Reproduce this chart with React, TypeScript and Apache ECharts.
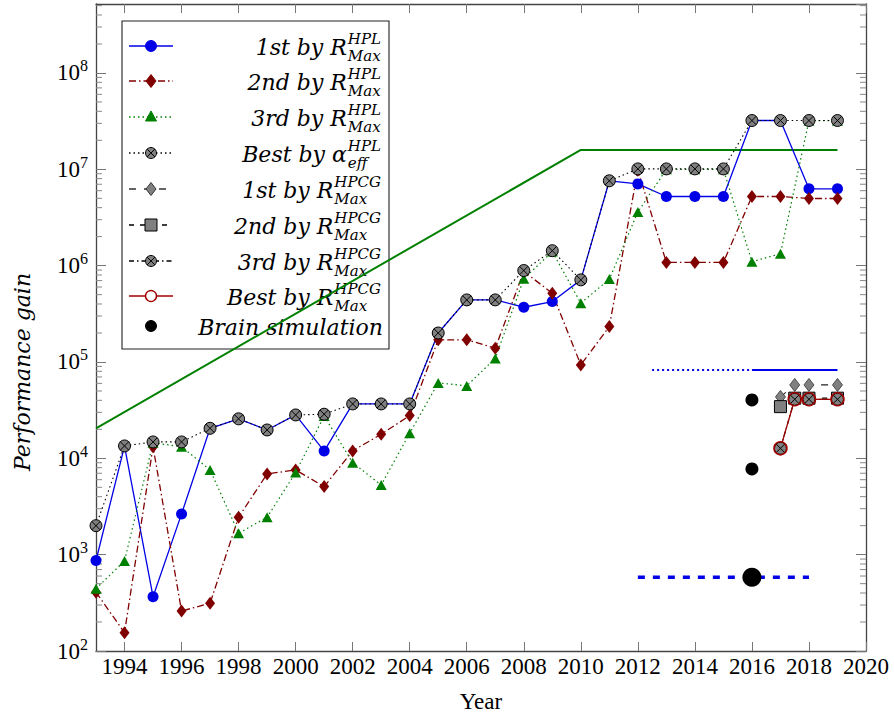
import React, { useEffect, useRef } from "react";
import * as echarts from "echarts";

// ---------- data ----------
const years = [1993, 1994, 1995, 1996, 1997, 1998, 1999, 2000, 2001, 2002, 2003, 2004, 2005, 2006, 2007, 2008, 2009, 2010, 2011, 2012, 2013, 2014, 2015, 2016, 2017, 2018, 2019];
const firstByHPL = [870, 13400, 366, 2650, 20500, 25700, 19700, 28200, 11900, 36700, 36700, 36700, 200000, 441000, 441000, 370000, 424000, 712000, 7.6e6, 7.06e6, 5.22e6, 5.22e6, 5.22e6, 3.21e7, 3.21e7, 6.28e6, 6.28e6];
const secondByHPL = [407, 155, 13200, 260, 313, 2445, 6890, 7580, 5090, 11940, 17800, 27750, 1.7e5, 1.7e5, 1.39e5, 8.7e5, 5.18e5, 9.33e4, 2.33e5, 9.8e6, 1.08e6, 1.08e6, 1.08e6, 5.22e6, 5.22e6, 4.98e6, 4.98e6];
const thirdByHPL = [444, 860, 14500, 13200, 7580, 1670, 2445, 7110, 27500, 9020, 5290, 18230, 60700, 56500, 1.09e5, 7.3e5, 1.4e6, 4.08e5, 7.25e5, 3.6e6, 1.0e7, 1.0e7, 1.0e7, 1.1e6, 1.33e6, 3.2e7, 3.2e7];
const bestByAlpha = [2000, 13450, 14800, 14800, 20500, 25700, 19700, 28200, 28700, 36700, 36700, 36700, 200000, 441000, 441000, 8.9e5, 1.43e6, 7.12e5, 7.6e6, 1.01e7, 1.01e7, 1.01e7, 1.01e7, 3.21e7, 3.21e7, 3.21e7, 3.21e7];

const hpcgYears = [2017, 2017.5, 2018, 2019];
const firstByHPCG = [43400, 57800, 57800, 57800];
const secondByHPCG = [34400, 42100, 42100, 42100];
const thirdByHPCG = [12700, 41000, 41000, 41000];
const bestByHPCG = [12700, 41000, 41000, 41000];

const brainYears = [2016, 2016];
const brainValues = [40400, 7760];
const brainBigYears = [2016];
const brainBigValues = [582];

const trendYears = [1993, 2010, 2019];
const trendValues = [20500, 1.59e7, 1.59e7];
const blueDottedYears = [2012.5, 2016];
const blueDottedValues = [82800, 82800];
const blueSolidYears = [2016, 2019];
const blueSolidValues = [82800, 82800];
const blueDashedYears = [2012, 2018];
const blueDashedValues = [582, 582];

const xTickValues = [1994, 1996, 1998, 2000, 2002, 2004, 2006, 2008, 2010, 2012, 2014, 2016, 2018, 2020];
const minorMultipliers = [2, 3, 4, 5, 6, 7, 8, 9];
const minorDecades = [2, 3, 4, 5, 6, 7, 8];

const legendItems = [
  { main: "1st by R", sup: "HPL", sub: "Max" },
  { main: "2nd by R", sup: "HPL", sub: "Max" },
  { main: "3rd by R", sup: "HPL", sub: "Max" },
  { main: "Best by \u03b1", sup: "HPL", sub: "eff" },
  { main: "1st by R", sup: "HPCG", sub: "Max" },
  { main: "2nd by R", sup: "HPCG", sub: "Max" },
  { main: "3rd by R", sup: "HPCG", sub: "Max" },
  { main: "Best by R", sup: "HPCG", sub: "Max" },
  { main: "Brain simulation", sup: "", sub: "" },
];

// ---------- styles ----------
const BLUE = "#0000e6";
const DRED = "#800000";
const GREEN = "#008000";
const GRAY = "#808080";
const BRED = "#a00000";
const OTIMES = "path://M0,-10A10,10,0,1,1,0,10A10,10,0,1,1,0,-10ZM-7.07,-7.07L7.07,7.07M7.07,-7.07L-7.07,7.07";
const MATH = "DejaVu Serif";
const ROMAN = "Liberation Serif";

const pair = (xs: number[], ys: number[]) => xs.map((x, i) => [x, ys[i]]);

function measure(text: string, size: number) {
  const c = document.createElement("canvas").getContext("2d")!;
  c.font = `italic ${size}px ${MATH}`;
  return c.measureText(text).width;
}

export default function App() {
  const ref = useRef<HTMLDivElement>(null);

  useEffect(() => {
    document.body.style.margin = "0";
    const chart = echarts.init(ref.current!, null, { renderer: "svg" });

    const minorValues: number[][] = [];
    minorDecades.forEach((d) =>
      minorMultipliers.forEach((m) => {
        const v = m * Math.pow(10, d);
        if (v < 5.2e8) minorValues.push([1993, v]);
      })
    );

    const txt = (text: string, x: number, y: number, size: number, align: string) => ({
      type: "text", x, y,
      style: {
        text, fontFamily: MATH, fontSize: size, fontStyle: "italic", fill: "#000", lineHeight: size,
        align, verticalAlign: "middle", textAlign: align, textVerticalAlign: "middle",
      },
    });

    // legend graphic
    const rowY = [46, 81, 117, 153, 189, 225, 261, 296, 326];
    const lx1 = 129, lx2 = 173, mx = 151, rightEdge = 381;
    const legendChildren: any[] = [
      { type: "rect", shape: { x: 122, y: 21, width: 267, height: 328 }, style: { fill: "#fff", stroke: "#222", lineWidth: 1.1 } },
    ];
    const samples: any[] = [
      { stroke: BLUE, dash: null, marker: "circle", fill: BLUE, mstroke: BLUE },
      { stroke: DRED, dash: [7, 3, 1.5, 3], marker: "diamond", fill: DRED, mstroke: DRED },
      { stroke: GREEN, dash: [1.5, 3], marker: "triangle", fill: GREEN, mstroke: GREEN },
      { stroke: "#000", dash: [1.5, 3], marker: "otimes", fill: GRAY, mstroke: "#000" },
      { stroke: "#333", dash: [7, 8], marker: "diamond", fill: GRAY, mstroke: "#333" },
      { stroke: "#000", dash: [5, 6], marker: "rect", fill: GRAY, mstroke: "#000" },
      { stroke: "#000", dash: [5, 3, 1.5, 3], marker: "otimes", fill: GRAY, mstroke: "#000" },
      { stroke: BRED, dash: null, marker: "circle", fill: "#fff", mstroke: BRED },
      { stroke: null, dash: null, marker: "circle", fill: "#000", mstroke: "#000" },
    ];
    samples.forEach((s, i) => {
      const y = rowY[i];
      if (s.stroke) {
        legendChildren.push({ type: "line", shape: { x1: lx1, y1: y, x2: lx2, y2: y }, style: { stroke: s.stroke, lineWidth: 1.3, lineDash: s.dash || undefined } });
      }
      const st = { fill: s.fill, stroke: s.mstroke, lineWidth: 1 };
      if (s.marker === "circle") legendChildren.push({ type: "circle", shape: { cx: mx, cy: y, r: 5.5 }, style: { ...st, lineWidth: s.fill === "#fff" ? 1.4 : 1 } });
      if (s.marker === "diamond") legendChildren.push({ type: "polygon", shape: { points: [[mx, y - 6.5], [mx + 5, y], [mx, y + 6.5], [mx - 5, y]] }, style: st });
      if (s.marker === "triangle") legendChildren.push({ type: "polygon", shape: { points: [[mx, y - 6], [mx + 5.5, y + 4], [mx - 5.5, y + 4]] }, style: st });
      if (s.marker === "rect") legendChildren.push({ type: "rect", shape: { x: mx - 6, y: y - 6, width: 12, height: 12 }, style: st });
      if (s.marker === "otimes") {
        legendChildren.push({ type: "circle", shape: { cx: mx, cy: y, r: 5.5 }, style: st });
        legendChildren.push({ type: "line", shape: { x1: mx - 3.9, y1: y - 3.9, x2: mx + 3.9, y2: y + 3.9 }, style: { stroke: "#000", lineWidth: 1 } });
        legendChildren.push({ type: "line", shape: { x1: mx + 3.9, y1: y - 3.9, x2: mx - 3.9, y2: y + 3.9 }, style: { stroke: "#000", lineWidth: 1 } });
      }
    });
    legendItems.forEach((it, i) => {
      const y = rowY[i];
      if (!it.sup) {
        legendChildren.push(txt(it.main, 383, y + 1, 22, "right"));
        return;
      }
      const w = Math.max(measure(it.sup, 15), measure(it.sub, 15));
      const sx = rightEdge - w;
      legendChildren.push(txt(it.main, sx - 1, y + 1, 22, "right"));
      legendChildren.push(txt(it.sup, sx, y - 7, 15, "left"));
      legendChildren.push(txt(it.sub, sx, y + 10, 15, "left"));
    });

    const axisLineStyle = { color: "#444", width: 1.3 };
    const tickStyle = { color: "#777", width: 1 };

    const option: any = {
      animation: false,
      backgroundColor: "#fff",
      grid: { left: 96, right: 28, top: 4, bottom: 68 },
      xAxis: [
        {
          type: "value", min: 1993, max: 2020, position: "bottom",
          axisLine: { show: true, lineStyle: axisLineStyle },
          axisTick: { show: true, inside: true, length: 9, customValues: xTickValues, lineStyle: tickStyle },
          axisLabel: { customValues: xTickValues, margin: 4, fontFamily: ROMAN, fontSize: 23, color: "#000", formatter: (v: number) => String(v) },
          splitLine: { show: false },
          name: "Year", nameLocation: "middle", nameGap: 39,
          nameTextStyle: { fontFamily: ROMAN, fontSize: 23, color: "#000" },
        },
        {
          type: "value", min: 1993, max: 2020, position: "top",
          axisLine: { show: true, lineStyle: axisLineStyle },
          axisTick: { show: true, inside: true, length: 9, customValues: xTickValues, lineStyle: tickStyle },
          axisLabel: { show: false },
          splitLine: { show: false },
        },
      ],
      yAxis: [
        {
          type: "log", logBase: 10, min: 100, max: 5.2e8, position: "left",
          axisLine: { show: true, lineStyle: axisLineStyle },
          axisTick: { show: true, inside: true, length: 10, lineStyle: tickStyle },
          axisLabel: {
            margin: 8, showMaxLabel: false, color: "#000",
            formatter: (v: number) => `{b|10}{s|${Math.round(Math.log10(v))}}`,
            rich: {
              b: { fontFamily: ROMAN, fontSize: 23, lineHeight: 30, color: "#000" },
              s: { fontFamily: ROMAN, fontSize: 16, lineHeight: 16, verticalAlign: "top", color: "#000" },
            },
          },
          splitLine: { show: false },
        },
        {
          type: "log", logBase: 10, min: 100, max: 5.2e8, position: "right",
          axisLine: { show: true, lineStyle: axisLineStyle },
          axisTick: { show: true, inside: true, length: 10, lineStyle: tickStyle },
          axisLabel: { show: false },
          splitLine: { show: false },
        },
      ],
      graphic: [
        { ...txt("Performance gain", 22, 372, 22, "center"), rotation: Math.PI / 2 },
        { type: "group", z: 100, children: legendChildren },
      ],
      series: [
        {
          type: "custom", name: "minor ticks", silent: true, clip: false,
          data: minorValues,
          renderItem: (params: any, api: any) => {
            const cs = params.coordSys;
            const y = api.coord([1993, api.value(1)])[1];
            return {
              type: "group",
              children: [
                { type: "line", shape: { x1: cs.x, y1: y, x2: cs.x + 6, y2: y }, style: { stroke: "#888", lineWidth: 1 } },
                { type: "line", shape: { x1: cs.x + cs.width - 6, y1: y, x2: cs.x + cs.width, y2: y }, style: { stroke: "#888", lineWidth: 1 } },
              ],
            };
          },
        },
        { type: "line", name: "trend", data: pair(trendYears, trendValues), symbol: "none", lineStyle: { color: GREEN, width: 2 }, silent: true },
        { type: "line", name: "target dotted", data: pair(blueDottedYears, blueDottedValues), symbol: "none", lineStyle: { color: BLUE, width: 2, type: [2, 3] } },
        { type: "line", name: "target solid", data: pair(blueSolidYears, blueSolidValues), symbol: "none", lineStyle: { color: BLUE, width: 2 } },
        { type: "line", name: "target dashed", data: pair(blueDashedYears, blueDashedValues), symbol: "none", lineStyle: { color: BLUE, width: 3.5, type: [7, 8] } },
        {
          type: "line", name: "1st by R_Max^HPL", data: pair(years, firstByHPL),
          symbol: "circle", symbolSize: 11, itemStyle: { color: BLUE }, lineStyle: { color: BLUE, width: 1.3 },
        },
        {
          type: "line", name: "2nd by R_Max^HPL", data: pair(years, secondByHPL),
          symbol: "diamond", symbolSize: [10, 13], itemStyle: { color: DRED }, lineStyle: { color: DRED, width: 1.3, type: [7, 3, 1.5, 3] },
        },
        {
          type: "line", name: "3rd by R_Max^HPL", data: pair(years, thirdByHPL),
          symbol: "triangle", symbolSize: [11, 10], itemStyle: { color: GREEN }, lineStyle: { color: GREEN, width: 1.2, type: [1.5, 3] },
        },
        {
          type: "line", name: "Best by alpha_eff^HPL", data: pair(years, bestByAlpha),
          symbol: OTIMES, symbolSize: 12, itemStyle: { color: GRAY, borderColor: "#000", borderWidth: 1 }, lineStyle: { color: "#000", width: 1.1, type: [1.5, 3] },
        },
        {
          type: "line", name: "1st by R_Max^HPCG", data: pair(hpcgYears, firstByHPCG),
          symbol: "diamond", symbolSize: [10, 13], itemStyle: { color: GRAY, borderColor: "#333", borderWidth: 0.8 }, lineStyle: { color: "#222", width: 1.2, type: [7, 8] },
        },
        {
          type: "line", name: "2nd by R_Max^HPCG", data: pair(hpcgYears, secondByHPCG),
          symbol: "rect", symbolSize: 12, itemStyle: { color: GRAY, borderColor: "#000", borderWidth: 1 }, lineStyle: { color: "#000", width: 1.2, type: [5, 6] },
        },
        {
          type: "line", name: "3rd by R_Max^HPCG", data: pair(hpcgYears, thirdByHPCG),
          symbol: OTIMES, symbolSize: 12, itemStyle: { color: GRAY, borderColor: "#000", borderWidth: 1 }, lineStyle: { color: "#000", width: 1.2, type: [5, 3, 1.5, 3] },
        },
        {
          type: "line", name: "Best by R_Max^HPCG", data: pair(hpcgYears, bestByHPCG),
          symbol: "circle", symbolSize: 13, itemStyle: { color: "rgba(0,0,0,0)", borderColor: BRED, borderWidth: 1.5 }, lineStyle: { color: BRED, width: 1.3 },
        },
        {
          type: "scatter", name: "Brain simulation", data: pair(brainYears, brainValues),
          symbol: "circle", symbolSize: 13, itemStyle: { color: "#000", opacity: 1 },
        },
        {
          type: "scatter", name: "Brain simulation (large)", data: pair(brainBigYears, brainBigValues),
          symbol: "circle", symbolSize: 19, itemStyle: { color: "#000", opacity: 1 }, z: 5,
        },
      ],
    };

    chart.setOption(option);
    return () => chart.dispose();
  }, []);

  return <div ref={ref} style={{ width: 894, height: 719 }} />;
}
